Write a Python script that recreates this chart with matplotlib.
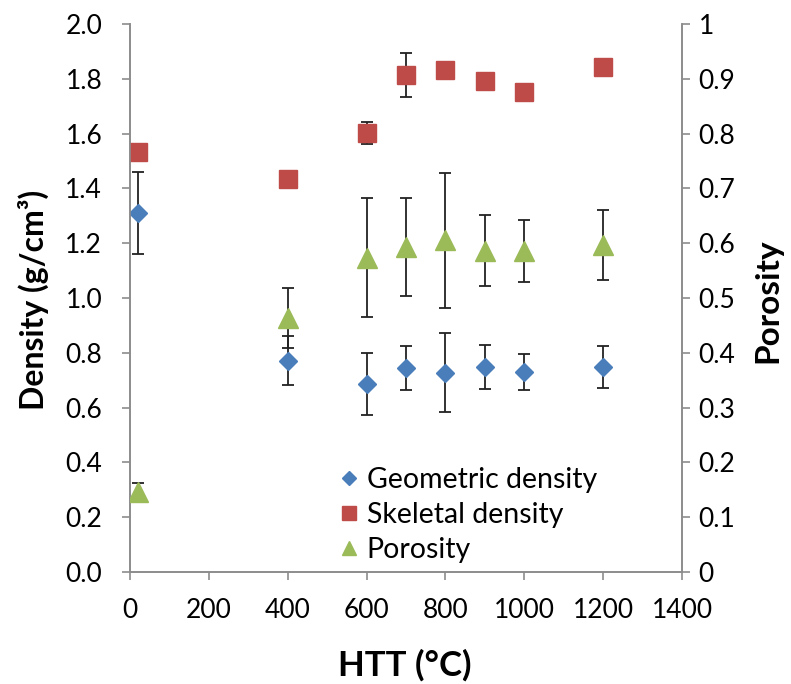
import matplotlib
matplotlib.use("Agg")
import matplotlib.pyplot as plt
from matplotlib.lines import Line2D

plt.rcParams["font.family"] = ["Lato", "DejaVu Sans"]

# heat treatment temperature (°C)
htt = [20, 400, 600, 700, 800, 900, 1000, 1200]

geo_density = [1.310, 0.771, 0.686, 0.743, 0.728, 0.748, 0.731, 0.748]
geo_err = [0.150, 0.090, 0.112, 0.080, 0.145, 0.080, 0.065, 0.075]

skel_density = [1.532, 1.433, 1.601, 1.813, 1.832, 1.792, 1.752, 1.844]
skel_err = [0.0, 0.0, 0.040, 0.080, 0.0, 0.0, 0.0, 0.0]

porosity = [0.146, 0.4635, 0.5735, 0.593, 0.605, 0.586, 0.586, 0.597]
por_err = [0.016, 0.055, 0.109, 0.090, 0.124, 0.065, 0.056, 0.064]

labels = ["Geometric density", "Skeletal density", "Porosity"]

BLUE, RED, GREEN = "#4A7EBB", "#BE4B48", "#9BBB59"
GRAY = "#8C8C8C"

W, H = 791, 684
fig = plt.figure(figsize=(W / 100, H / 100), dpi=100)
ax = fig.add_axes([130 / W, 1 - 572 / H, 552 / W, 548 / H])
ax2 = ax.twinx()

ebkw = dict(ecolor="#222222", elinewidth=1.3, capsize=4.5, capthick=1.3, linestyle="none")
ax.errorbar(htt, geo_density, yerr=geo_err, marker="D", ms=9.5, color=BLUE, mec=BLUE, zorder=3, **ebkw)
ax.errorbar(htt, skel_density, yerr=skel_err, marker="s", ms=13, color=RED, mec=RED, zorder=3, **ebkw)
ax2.errorbar(htt, porosity, yerr=por_err, marker="^", ms=14, color=GREEN, mec=GREEN, zorder=3, **ebkw)

ax.set_xlim(0, 1400)
ax.set_ylim(0, 2.0)
ax2.set_ylim(0, 1.0)
ax.set_xticks(range(0, 1401, 200))
ax.set_yticks([i / 5 for i in range(11)])
ax.set_yticklabels([f"{i / 5:.1f}" for i in range(11)])
ax2.set_yticks([i / 10 for i in range(11)])
ax2.set_yticklabels(["0"] + [f"{i / 10:.1f}" for i in range(1, 10)] + ["1"])

for a in (ax, ax2):
    a.spines["top"].set_visible(False)
    for s in ("left", "right", "bottom"):
        a.spines[s].set_color(GRAY)
        a.spines[s].set_linewidth(1.2)
    a.tick_params(direction="out", length=6, width=1.2, color=GRAY, labelsize=19)
ax.tick_params(axis="y", pad=14)
ax.tick_params(axis="x", pad=13)
ax2.tick_params(axis="y", pad=6)

fig.text(33 / W, 1 - 300 / H, "Density (g/cm³)", rotation=90, ha="center", va="center",
         fontsize=23, fontweight="bold")
fig.text(768 / W, 1 - 301 / H, "Porosity", rotation=90, ha="center", va="center",
         fontsize=24, fontweight="bold")
fig.text(405 / W, 1 - 665 / H, "HTT (°C)", ha="center", va="center",
         fontsize=25, fontweight="bold")

handles = [
    Line2D([], [], marker="D", ms=7, color=BLUE, linestyle="none"),
    Line2D([], [], marker="s", ms=9.5, color=RED, linestyle="none"),
    Line2D([], [], marker="^", ms=10, color=GREEN, linestyle="none"),
]
ax2.legend(handles, labels, loc="upper left", bbox_to_anchor=(0.377, 0.192), frameon=False,
           fontsize=20.5, handletextpad=0.2, labelspacing=0.32, handlelength=0.8,
           borderpad=0, borderaxespad=0)

fig.savefig("out.png", dpi=100)
